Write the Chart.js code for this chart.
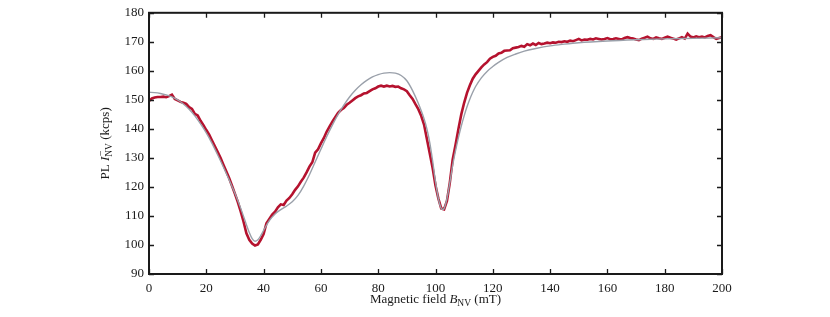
<!DOCTYPE html>
<html>
<head>
<meta charset="utf-8">
<script src="https://cdn.jsdelivr.net/npm/chart.js@4"></script>
<style>
  html, body { margin: 0; padding: 0; background: #fff; }
</style>
</head>
<body>
<canvas id="c" width="830" height="317"></canvas>
<script>
// ===== dados =====
// campo magnético (mT) da medida, passo de 1 mT
const campoMedido = Array.from({ length: 201 }, (_, i) => i);

// PL medida (kcps)
const plMedido = [
  149.6, 150.5, 150.8, 151.0, 151.0, 151.1, 150.9, 151.3, 151.8, 150.3,
  149.8, 149.3, 149.0, 148.6, 147.5, 146.9, 145.2, 144.6, 142.8, 141.3,
  139.6, 138.0, 136.0, 134.0, 132.0, 130.0, 127.6, 125.3, 123.0, 120.3,
  117.6, 114.8, 111.6, 108.0, 104.0, 101.8, 100.5, 99.8, 100.2, 101.8,
  103.8, 107.5, 109.0, 110.5, 111.5, 113.0, 114.0, 113.8, 115.3, 116.2,
  117.5, 119.0, 120.2, 121.8, 123.2, 125.0, 127.0, 128.5, 131.8, 133.0,
  135.0, 136.8, 139.0, 140.8, 142.5, 144.0, 145.5, 146.5, 147.2, 148.3,
  149.0, 149.8, 150.6, 151.2, 151.6, 152.2, 152.4, 153.0, 153.6, 154.0,
  154.6, 154.9, 154.6, 154.9, 154.6, 154.8, 154.5, 154.6, 154.0, 153.6,
  153.0, 151.6, 150.3, 148.5, 146.8, 144.5, 141.5, 136.5, 131.5, 126.5,
  120.5, 116.0, 112.6, 112.3, 115.2, 121.5, 129.5, 134.5, 140.0, 145.0,
  149.0, 152.4, 155.0, 157.3, 158.8, 160.0, 161.2, 162.2, 163.0, 164.2,
  164.8, 165.2, 166.0, 166.2, 166.9, 167.0, 167.1, 167.8, 168.0, 168.2,
  168.6, 168.3, 169.2, 168.8, 169.4, 168.9, 169.6, 169.2, 169.4, 169.7,
  169.5, 169.8, 169.7, 170.0, 169.9, 170.2, 170.0, 170.4, 170.2, 170.6,
  171.0, 170.5, 170.8, 170.7, 171.0, 170.8, 171.2, 171.0, 170.8, 171.0,
  171.3, 170.9, 171.0, 171.2, 171.0, 170.8, 171.3, 171.6, 171.3, 171.1,
  170.8, 170.6, 171.1, 171.4, 171.8, 171.2, 171.0, 171.5, 171.2, 171.0,
  171.4, 171.8, 171.4, 171.1, 170.8, 171.2, 171.6, 171.1, 172.8, 171.8,
  171.5, 171.9, 171.6, 171.8, 171.5, 172.0, 172.3, 171.6, 171.0, 171.3,
  171.6
];

// curva ajustada
const campoAjuste = [
  0, 2, 4, 6, 8, 10, 12, 14, 16, 18, 20, 22, 24, 26, 28, 30, 32, 34, 35, 36,
  37, 38, 39, 40, 42, 44, 46, 48, 50, 52, 54, 56, 58, 60, 62, 64, 66, 68, 70, 72,
  74, 76, 78, 80, 82, 84, 86, 88, 90, 92, 94, 96, 97, 98, 99, 100, 101, 102, 102.6, 103,
  104, 105, 106, 107, 108, 109, 110, 111, 112, 113, 114, 116, 118, 120, 122, 125, 128, 131, 135, 140,
  145, 150, 160, 170, 180, 190, 200
];
const plAjuste = [
  152.6, 152.5, 152.2, 151.7, 151.0, 150.0, 148.6, 146.8, 144.5, 141.7,
  138.6, 135.0, 131.0, 126.8, 122.4, 117.8, 112.7, 107.0, 104.3, 102.2,
  101.3, 101.8, 103.2, 105.0, 108.4, 110.7, 112.2, 113.4, 114.9, 117.1,
  120.3, 124.2, 128.6, 133.0, 137.3, 141.3, 145.0, 148.2, 151.0, 153.3,
  155.2, 156.7, 157.9, 158.7, 159.2, 159.4, 159.2, 158.4, 156.6, 153.2,
  148.8, 143.5, 140.0, 135.3, 129.0, 121.8, 116.0, 112.6, 112.2, 112.6,
  116.0, 121.5, 127.5, 132.5, 137.0, 141.0, 144.5, 147.6, 150.3, 152.6,
  154.6, 157.6, 159.8, 161.5, 162.9, 164.6, 165.8, 166.8, 167.7, 168.6,
  169.2, 169.7, 170.3, 170.7, 171.0, 171.2, 171.4
];

// ticks
const ticksX = [0, 20, 40, 60, 80, 100, 120, 140, 160, 180, 200];
const ticksY = [90, 100, 110, 120, 130, 140, 150, 160, 170, 180];

const FONTE = "'Liberation Serif', 'Times New Roman', serif";

// ===== plugin: moldura com ticks para dentro =====
const moldura = {
  id: "moldura",
  afterDatasetsDraw(chart) {
    const { ctx, chartArea: a, scales } = chart;
    const L = 5;
    ctx.save();
    ctx.strokeStyle = "#1a1a1a";
    ctx.lineWidth = 1.3;
    ctx.beginPath();
    for (const v of ticksX) {
      const px = Math.round(scales.x.getPixelForValue(v)) + 0.5;
      ctx.moveTo(px, a.bottom); ctx.lineTo(px, a.bottom - L);
      ctx.moveTo(px, a.top); ctx.lineTo(px, a.top + L);
    }
    for (const v of ticksY) {
      const py = Math.round(scales.y.getPixelForValue(v)) + 0.5;
      ctx.moveTo(a.left, py); ctx.lineTo(a.left + L, py);
      ctx.moveTo(a.right, py); ctx.lineTo(a.right - L, py);
    }
    ctx.stroke();
    ctx.lineWidth = 2;
    ctx.strokeRect(a.left, a.top, a.right - a.left, a.bottom - a.top);
    ctx.restore();
  },
};

// desenha trechos de texto com itálico / índices
function larguraTrechos(ctx, trechos) {
  let w = 0;
  for (const t of trechos) {
    ctx.font = `${t.estilo || ""} ${t.tam}px ${FONTE}`;
    const m = ctx.measureText(t.txt).width;
    if (!t.sobre) w += m;
  }
  return w;
}
function desenhaTrechos(ctx, trechos, cx, base) {
  let x = cx - larguraTrechos(ctx, trechos) / 2;
  for (const t of trechos) {
    ctx.font = `${t.estilo || ""} ${t.tam}px ${FONTE}`;
    ctx.fillText(t.txt, x + (t.dx || 0), base + (t.dy || 0));
    if (!t.sobre) x += ctx.measureText(t.txt).width;
  }
}

// ===== plugin: títulos dos eixos =====
const titulos = {
  id: "titulos",
  afterDraw(chart) {
    const { ctx, chartArea: a } = chart;
    ctx.save();
    ctx.fillStyle = "#1a1a1a";
    ctx.textBaseline = "alphabetic";
    ctx.textAlign = "left";
    // eixo x
    desenhaTrechos(ctx, [
      { txt: "Magnetic field ", tam: 13 },
      { txt: "B", tam: 13, estilo: "italic" },
      { txt: "NV", tam: 9.5, dy: 3 },
      { txt: " (mT)", tam: 13 },
    ], (a.left + a.right) / 2, 303);
    // eixo y (girado)
    ctx.translate(109, (a.top + a.bottom) / 2);
    ctx.rotate(-Math.PI / 2);
    desenhaTrechos(ctx, [
      { txt: "PL ", tam: 13 },
      { txt: "I", tam: 13, estilo: "italic" },
      { txt: "\u2013", tam: 9.5, dy: -6, dx: 1, sobre: true },
      { txt: "NV", tam: 9.5, dy: 3 },
      { txt: " (kcps)", tam: 13 },
    ], 0, 0);
    ctx.restore();
  },
};

// ===== gráfico =====
const pontosMedidos = campoMedido.map((x, i) => ({ x, y: plMedido[i] }));
const pontosAjuste = campoAjuste.map((x, i) => ({ x, y: plAjuste[i] }));

new Chart(document.getElementById("c"), {
  type: "line",
  data: {
    datasets: [
      {
        label: "Ajuste",
        data: pontosAjuste,
        borderColor: "#9aa0aa",
        borderWidth: 1.4,
        pointRadius: 0,
        cubicInterpolationMode: "monotone",
        order: 0,
      },
      {
        label: "Medida",
        data: pontosMedidos,
        borderColor: "#b5122e",
        borderWidth: 2.6,
        pointRadius: 0,
        tension: 0,
        order: 1,
      },
    ],
  },
  options: {
    responsive: false,
    animation: false,
    events: [],
    layout: { padding: { left: 0, right: 108, top: 8, bottom: 0 } },
    plugins: { legend: { display: false }, tooltip: { enabled: false } },
    scales: {
      x: {
        type: "linear",
        min: 0,
        max: 200,
        afterBuildTicks: (s) => { s.ticks = ticksX.map((v) => ({ value: v })); },
        afterFit: (s) => { s.height = 43; },
        grid: { display: false, drawTicks: false },
        border: { display: false },
        ticks: { padding: 7, color: "#1a1a1a", font: { family: FONTE, size: 13 } },
      },
      y: {
        type: "linear",
        min: 90,
        max: 180,
        afterBuildTicks: (s) => { s.ticks = ticksY.map((v) => ({ value: v })); },
        afterFit: (s) => { s.width = 149; },
        grid: { display: false, drawTicks: false },
        border: { display: false },
        ticks: { padding: 5, color: "#1a1a1a", font: { family: FONTE, size: 13 } },
      },
    },
  },
  plugins: [moldura, titulos],
});
</script>
</body>
</html>
